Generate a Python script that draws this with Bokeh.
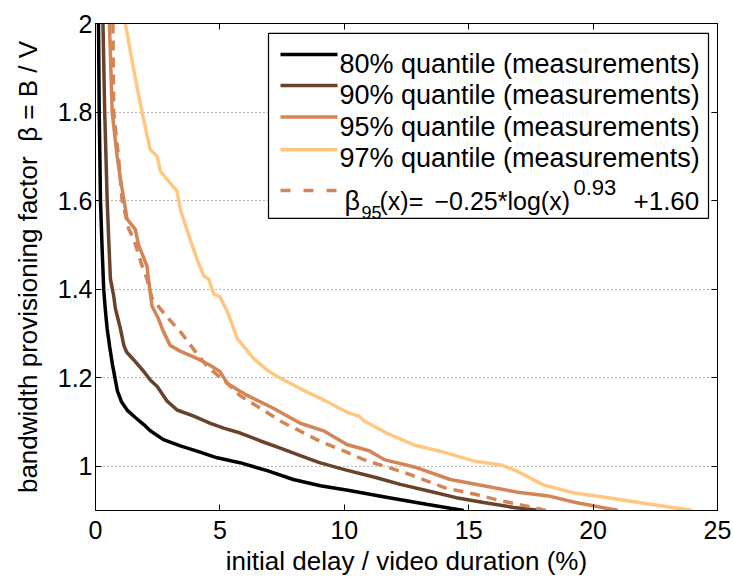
from bokeh.plotting import figure
from bokeh.models import Range1d, FixedTicker, LinearAxis, BoxAnnotation, Label, Arrow
from bokeh.embed import file_html
from bokeh.resources import INLINE

# ---------------- data ----------------
q80_x = [0.12, 0.15, 0.2, 0.26, 0.33, 0.4, 0.47, 0.57, 0.68, 0.78, 0.88, 1.05, 1.3, 1.6, 1.94, 2.2,
         2.73, 3.41, 4.08, 4.89, 5.8, 6.9, 7.95, 9.04, 10.2, 11.8, 13.3, 14.8]
q80_y = [2.0, 1.8, 1.6, 1.5, 1.4, 1.35, 1.31, 1.27, 1.23, 1.2, 1.17, 1.145, 1.125, 1.11, 1.094, 1.08,
         1.06, 1.046, 1.034, 1.019, 1.008, 0.99, 0.97, 0.956, 0.945, 0.929, 0.914, 0.9]

q90_x = [0.3, 0.37, 0.47, 0.53, 0.6, 0.73, 0.8, 1.0, 1.14, 1.25, 1.54, 1.94, 2.2, 2.48, 2.88, 3.28,
         3.95, 4.62, 5.15, 5.82, 6.63, 7.43, 8.23, 9.0, 9.97, 11.3, 12.25, 13.3, 14.5, 15.6, 16.8, 17.9]
q90_y = [2.0, 1.8, 1.6, 1.513, 1.423, 1.385, 1.356, 1.311, 1.273, 1.258, 1.24, 1.214, 1.195, 1.18,
         1.147, 1.127, 1.113, 1.097, 1.086, 1.075, 1.057, 1.041, 1.024, 1.008, 0.993, 0.974, 0.959,
         0.945, 0.929, 0.918, 0.907, 0.9]

q95_x = [0.56, 0.67, 0.87, 1.0, 1.14, 1.27, 1.6, 1.73, 2.07, 2.13, 2.27, 2.53, 2.73, 3.0, 3.4, 4.1,
         4.6, 5.0, 5.3, 6.1, 7.15, 8.23, 9.17, 10.1, 11.0, 11.6, 12.9, 14.26, 15.6, 16.9, 18.2, 19.3, 21.0]
q95_y = [2.0, 1.8, 1.7, 1.65, 1.603, 1.558, 1.535, 1.5, 1.452, 1.423, 1.362, 1.333, 1.304, 1.273,
         1.26, 1.243, 1.228, 1.214, 1.187, 1.16, 1.131, 1.097, 1.08, 1.049, 1.035, 1.015, 0.997,
         0.97, 0.956, 0.942, 0.933, 0.918, 0.9]

q97_x = [1.2, 1.54, 1.87, 2.2, 2.48, 2.61, 3.28, 3.41, 3.8, 4.08, 4.35, 4.55, 4.75, 5.0, 5.3, 5.7,
         6.36, 6.9, 7.4, 8.2, 9.17, 9.8, 10.2, 10.6, 10.8, 11.7, 12.8, 13.85, 15.2, 16.3, 16.9,
         18.0, 19.2, 20.6, 22.3, 24.0]
q97_y = [2.0, 1.894, 1.8, 1.715, 1.70, 1.666, 1.621, 1.58, 1.513, 1.468, 1.43, 1.423, 1.389, 1.383,
         1.349, 1.288, 1.243, 1.217, 1.2, 1.176, 1.15, 1.131, 1.12, 1.113, 1.102, 1.075, 1.048,
         1.034, 1.012, 1.003, 0.99, 0.958, 0.94, 0.929, 0.914, 0.9]

fit_x = [0.7, 0.73, 0.92, 1.07, 1.34, 1.54, 1.87, 2.07, 2.28, 2.94, 3.41, 4.0, 4.5, 5.3, 5.8, 7.5,
         8.2, 9.0, 10.0, 10.9, 11.8, 12.65, 14.0, 15.3, 16.3, 17.6, 18.1]
fit_y = [2.0, 1.8, 1.7, 1.6, 1.535, 1.513, 1.453, 1.423, 1.378, 1.333, 1.304, 1.26, 1.225, 1.187,
         1.16, 1.10, 1.08, 1.057, 1.034, 1.012, 0.997, 0.981, 0.952, 0.936, 0.922, 0.907, 0.9]

x_ticks = [0, 5, 10, 15, 20, 25]
y_ticks = [1.0, 1.2, 1.4, 1.6, 1.8, 2.0]
y_tick_labels = ["1", "1.2", "1.4", "1.6", "1.8", "2"]

legend_labels = ["80% quantile (measurements)", "90% quantile (measurements)",
                 "95% quantile (measurements)", "97% quantile (measurements)"]

# ---------------- style ----------------
C80, C90, C95, C97 = "#000000", "#6A422A", "#D48555", "#FFC77F"
FONT = "Liberation Sans"
LW = 3.5

X0, X1, Y0, Y1 = 0, 25, 0.9, 2.0
FX0, FX1, FY0, FY1 = 95, 717, 23, 513   # frame in page pixels


def dx(px):
    return X0 + (px - FX0) / (FX1 - FX0) * (X1 - X0)


def dy(py):
    return Y0 + (FY1 - py) / (FY1 - FY0) * (Y1 - Y0)


p = figure(width=733, height=578, output_backend="svg", toolbar_location=None,
           x_range=Range1d(X0, X1), y_range=Range1d(Y0, Y1),
           min_border_left=95, min_border_right=16, min_border_top=23, min_border_bottom=65,
           x_axis_label="initial delay / video duration (%)",
           y_axis_label="bandwidth provisioning factor\u00a0\u00a0\u03b2 = B / V")
p.background_fill_color = "white"
p.border_fill_color = "white"
p.outline_line_color = "black"
p.outline_line_width = 1

p.xgrid.grid_line_color = None
p.ygrid.grid_line_color = "#6e6e6e"
p.ygrid.grid_line_dash = "1 3"
p.ygrid.grid_line_width = 1

p.xaxis.ticker = FixedTicker(ticks=x_ticks)
p.yaxis.ticker = FixedTicker(ticks=y_ticks)
p.yaxis.major_label_overrides = {t: s for t, s in zip(y_ticks, y_tick_labels)}

for ax in p.xaxis + p.yaxis:
    ax.major_tick_in = 6
    ax.major_tick_out = 0
    ax.minor_tick_line_color = None
    ax.axis_line_color = "black"
    ax.major_tick_line_color = "black"
    ax.major_label_text_font = FONT
    ax.major_label_text_font_size = "25px"
    ax.major_label_text_color = "black"
    ax.axis_label_text_font = FONT
    ax.axis_label_text_font_size = "26px"
    ax.axis_label_text_font_style = "normal"
    ax.axis_label_text_color = "black"

p.xaxis.major_label_standoff = 10
p.xaxis.axis_label_standoff = 4
p.yaxis.major_label_standoff = 3
p.yaxis.axis_label_standoff = 12

# mirrored axes (ticks only) on top and right
top = LinearAxis(ticker=FixedTicker(ticks=x_ticks), major_tick_in=6, major_tick_out=0,
                 minor_tick_line_color=None, major_label_text_font_size="0px",
                 major_label_text_color=None, major_label_standoff=0, axis_line_color="black")
right = LinearAxis(ticker=FixedTicker(ticks=y_ticks), major_tick_in=6, major_tick_out=0,
                   minor_tick_line_color=None, major_label_text_font_size="0px",
                   major_label_text_color=None, major_label_standoff=0, axis_line_color="black")
p.add_layout(top, "above")
p.add_layout(right, "right")

# ---------------- curves ----------------
p.line(q80_x, q80_y, line_color=C80, line_width=LW)
p.line(q90_x, q90_y, line_color=C90, line_width=LW)
p.line(q95_x, q95_y, line_color=C95, line_width=LW)
p.line(q97_x, q97_y, line_color=C97, line_width=LW)
p.line(fit_x, fit_y, line_color=C95, line_width=LW, line_dash="10 7")

# ---------------- legend (drawn by hand) ----------------
p.add_layout(BoxAnnotation(left=dx(268), right=dx(708), top=dy(33), bottom=dy(219),
                           fill_color="white", fill_alpha=1.0, line_color="black",
                           line_width=1.2, line_alpha=1.0))

row_base = [63.3, 95.0, 126.7, 158.3]
row_line = [54.3, 85.5, 117.0, 150.0]
for lab, col, base, ly in zip(legend_labels, [C80, C90, C95, C97], row_base, row_line):
    p.add_layout(Arrow(end=None, x_start=dx(280), x_end=dx(337), y_start=dy(ly), y_end=dy(ly),
                       line_color=col, line_width=LW))
    p.add_layout(Label(x=dx(339), y=dy(base), text=lab, text_font=FONT, text_font_size="27px",
                       text_baseline="alphabetic", text_align="left", text_color="black"))

# formula row
p.add_layout(Arrow(end=None, x_start=dx(280), x_end=dx(337), y_start=dy(191), y_end=dy(191),
                   line_color=C95, line_width=LW, line_dash="10 13"))
formula_parts = [
    (344, 201.7, "\u03b2", "27px"),
    (361, 213.0, "95", "18px"),
    (379, 201.7, "(x)=", "25px"),
    (434, 201.7, "\u22120.25*log(x)", "25px"),
    (573, 188.3, "0.93", "22px"),
    (633, 201.7, "+1.60", "26px"),
]
for px, py, txt, fs in formula_parts:
    p.add_layout(Label(x=dx(px), y=dy(py), text=txt, text_font=FONT, text_font_size=fs,
                       text_baseline="alphabetic", text_align="left", text_color="black"))

open("out.html", "w").write(file_html(p, INLINE))
